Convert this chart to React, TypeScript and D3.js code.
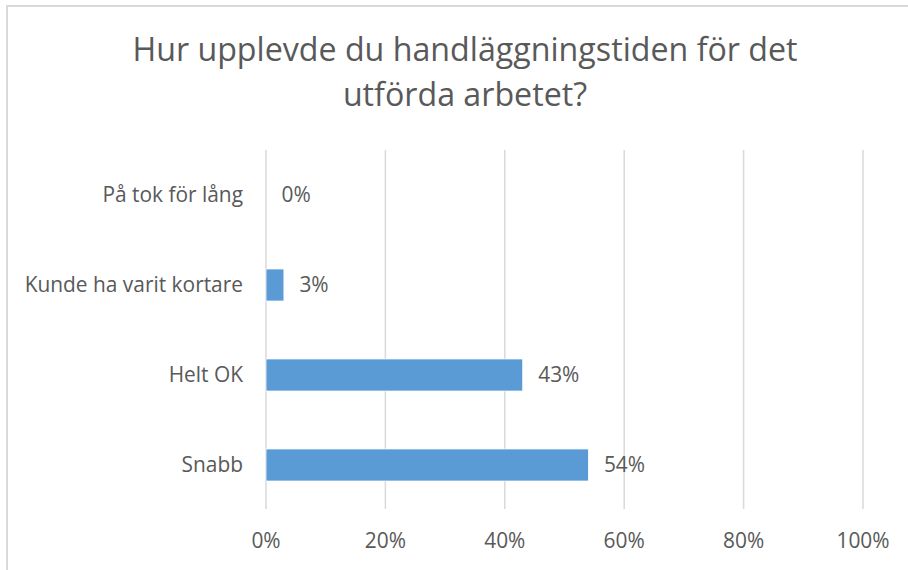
import React from "react";
import * as d3 from "d3";

const categories = ["På tok för lång", "Kunde ha varit kortare", "Helt OK", "Snabb"];
const values = [0, 0.03, 0.43, 0.54];
const valueLabels = ["0%", "3%", "43%", "54%"];
const ticks = [0, 0.2, 0.4, 0.6, 0.8, 1.0];
const titleLines = ["Hur upplevde du handläggningstiden för det", "utförda arbetet?"];

const W = 908;
const H = 570;
const FONT = "'Open Sans', 'Noto Sans', sans-serif";
const TEXT = "#595959";
const FS = 20.9;

export default function App() {
  const x = d3.scaleLinear().domain([0, 1]).range([266, 863]);
  const y = d3.scaleBand<string>().domain(categories).range([150, 510]).paddingInner(0.644).paddingOuter(0.322);
  const fmt = d3.format(".0%");

  return (
    <svg width={W} height={H} style={{ position: "absolute", left: 0, top: 0, background: "#fff" }}>
      <rect x={7} y={6} width={W + 10} height={H + 10} fill="#fff" stroke="#d9d9d9" strokeWidth={2} />
      {titleLines.map((t, i) => (
        <text key={i} x={465} y={61 + i * 45} textAnchor="middle" fontFamily={FONT} fontSize={32.2} fill={TEXT}>
          {t}
        </text>
      ))}
      {ticks.map((t) => (
        <g key={t}>
          <line x1={x(t)} x2={x(t)} y1={150} y2={509} stroke="#d9d9d9" strokeWidth={1.5} />
          <text x={x(t)} y={548} textAnchor="middle" fontFamily={FONT} fontSize={FS} fill={TEXT}>
            {fmt(t)}
          </text>
        </g>
      ))}
      {categories.map((c, i) => {
        const yc = (y(c) as number) + y.bandwidth() / 2;
        return (
          <g key={c}>
            {values[i] > 0 && (
              <rect
                x={x(0)}
                y={y(c)}
                width={x(values[i]) - x(0)}
                height={y.bandwidth()}
                fill="#5b9bd5"
                stroke="#ffffff"
                strokeWidth={0.75}
              />
            )}
            <text x={243} y={yc} dy="0.35em" textAnchor="end" fontFamily={FONT} fontSize={FS} fill={TEXT}>
              {c}
            </text>
            <text x={x(values[i]) + 15.5} y={yc} dy="0.35em" fontFamily={FONT} fontSize={FS} fill={TEXT}>
              {valueLabels[i]}
            </text>
          </g>
        );
      })}
    </svg>
  );
}
